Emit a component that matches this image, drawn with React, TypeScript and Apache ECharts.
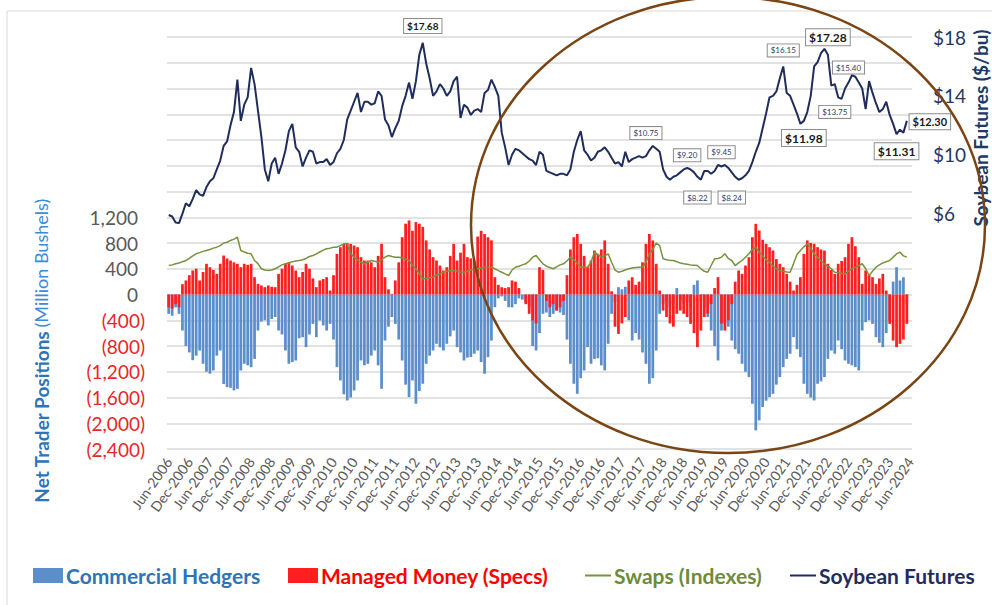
import React, { useEffect, useRef } from "react";
import * as echarts from "echarts";

const MONTH_NAMES = ["Jan", "Feb", "Mar", "Apr", "May", "Jun", "Jul", "Aug", "Sep", "Oct", "Nov", "Dec"];
const START_YEAR = 2006;
const START_MONTH = 5; // June
const N_MONTHS = 217; // Jun-2006 .. Jun-2024
const categories: string[] = [];
for (let k = 0; k < N_MONTHS; k++) {
  const m = (START_MONTH + k) % 12;
  const y = START_YEAR + Math.floor((START_MONTH + k) / 12);
  categories.push(`${MONTH_NAMES[m]}-${y}`);
}

// Commercial hedgers net position (million bushels), monthly
const hedgers: (number | null)[] = [
  -300, -330, -200, -300, -560, -800, -900,
  -1020, -950, -870, -1076, -1200, -1230, -1180, -950, -870, -1390, -1440, -1450,
  -1490, -1465, -1180, -1076, -1100, -1130, -1000, -560, -420, -400, -480, -380,
  -350, -560, -620, -870, -1076, -1050, -1025, -680, -663, -818, -620, -456,
  -663, -404, -480, -560, -456, -700, -1128, -1335, -1550, -1646, -1600, -1490,
  -1335, -1025, -1100, -1076, -950, -870, -1100, -1465, -715, -500, -350, -456,
  -700, -1025, -1400, -1594, -1335, -1697, -1500, -1387, -1076, -950, -870, -766,
  -820, -870, -766, -650, -560, -818, -900, -1025, -980, -973, -920, -870,
  -1050, -1232, -973, -715, -197, -60, -30, -100, -197, -200, -150, -60,
  -80, -120, -200, -800, -870, -600, -300, -280, -350, -300, -250, -280,
  -320, -700, -1076, -1387, -1543, -1300, -1180, -818, -1076, -1000, -990, -1100,
  -1180, -766, -300, -120, 114, 80, 120, -400, -715, -600, -700, -900,
  -1076, -1387, -1300, -870, -300, -150, -100, -200, -150, 100, -100, -150,
  -120, -200, 150, 218, -100, -200, -350, -560, -800, -1025, -560, -456,
  -500, -715, -850, -920, -1076, -1200, -1283, -1697, -2110, -1955, -1749, -1650,
  -1594, -1543, -1400, -1283, -1128, -1000, -920, -663, -850, -973, -1387, -1543,
  -1600, -1646, -1387, -1350, -1283, -1000, -870, -920, -715, -850, -1025, -1076,
  -1100, -1128, -1180, -560, -430, -400, -456, -663, -750, -818, -600, -404,
  200, 424, 218, 269, -150, null,
];

// Managed money net position (million bushels), monthly
const managed: (number | null)[] = [
  -200, -220, -150, -200, 160, 218, 300,
  373, 400, 218, 350, 477, 424, 380, 321, 477, 605, 560, 528,
  500, 477, 424, 477, 460, 477, 269, 166, 140, 114, 140, 120,
  114, 321, 400, 477, 502, 450, 373, 269, 350, 477, 400, 250,
  114, 218, 240, 269, 62, 300, 631, 735, 787, 800, 787, 760,
  735, 580, 528, 528, 500, 424, 600, 787, 269, 80, 10, 218,
  500, 890, 1100, 1150, 990, 1125, 1100, 1050, 840, 700, 580, 528,
  450, 373, 424, 600, 787, 528, 650, 787, 580, 560, 528, 900,
  990, 940, 890, 840, 269, 150, 114, 100, 114, 218, 200, 100,
  0, -150, -300, -404, -450, 424, 380, -100, -200, -150, -250, -200,
  -100, 300, 700, 890, 940, 787, 600, 424, 528, 683, 632, 700,
  840, 477, 50, -500, -612, -450, -350, 218, 269, 150, 200, 500,
  787, 940, 840, 477, 62, -250, -350, -450, -500, -300, -250, -300,
  -350, -456, -600, -818, -560, -350, -300, -150, 100, 269, -450, -560,
  -400, -150, 200, 373, 321, 450, 580, 890, 1098, 993, 850, 787,
  735, 683, 550, 477, 424, 321, 200, 62, 150, 269, 632, 840,
  800, 787, 735, 700, 683, 477, 380, 321, 477, 520, 580, 787,
  890, 750, 580, 166, 373, 300, 269, 166, 250, 321, 62, -456,
  -716, -818, -766, -700, -456, null,
];

// Swap dealers (index) net position (million bushels), monthly
const swaps: (number | null)[] = [
  450, 460, 477, 490, 510, 528, 560,
  600, 632, 650, 670, 683, 700, 720, 735, 760, 800, 812, 840,
  860, 890, 683, 660, 640, 632, 528, 480, 400, 380, 373, 380,
  400, 430, 460, 477, 490, 510, 520, 528, 540, 560, 590, 605,
  630, 660, 690, 710, 720, 735, 735, 760, 787, 787, 632, 580,
  530, 500, 477, 500, 528, 515, 502, 540, 580, 605, 590, 580,
  580, 570, 550, 528, 450, 400, 320, 244, 250, 260, 269, 300,
  320, 346, 360, 370, 373, 360, 350, 346, 360, 383, 390, 400,
  410, 420, 424, 424, 400, 370, 346, 320, 295, 380, 424, 440,
  460, 477, 520, 580, 605, 540, 477, 440, 420, 400, 430, 460,
  477, 520, 580, 540, 480, 424, 424, 424, 500, 657, 620, 580,
  600, 632, 500, 380, 346, 360, 380, 400, 410, 420, 424, 424,
  500, 632, 700, 800, 760, 554, 540, 530, 528, 510, 490, 477,
  470, 460, 455, 450, 400, 360, 346, 450, 554, 560, 580, 632,
  560, 528, 450, 490, 528, 580, 632, 700, 735, 657, 600, 540,
  500, 440, 400, 373, 360, 350, 346, 480, 620, 683, 740, 787,
  720, 632, 580, 520, 477, 440, 400, 346, 340, 330, 321, 360,
  400, 424, 450, 477, 400, 295, 360, 424, 460, 490, 510, 528,
  580, 630, 657, 600, 580, null,
];

// Soybean futures price ($/bu), monthly
const price: (number | null)[] = [
  5.9, 5.8, 5.4, 5.35, 6.0, 6.7, 6.5,
  7.0, 7.6, 7.3, 7.2, 7.8, 8.2, 8.4, 9.0, 9.6, 10.6, 10.9, 12.0,
  12.9, 15.1, 12.3, 13.4, 13.9, 15.9, 14.8, 13.0, 11.2, 9.0, 8.2, 9.4,
  9.8, 8.7, 9.4, 10.3, 11.6, 12.1, 10.5, 10.2, 9.2, 9.8, 10.3, 10.2,
  9.4, 9.5, 9.5, 9.7, 9.3, 9.5, 10.1, 10.4, 11.0, 12.4, 13.0, 13.6,
  14.2, 12.9, 13.6, 13.6, 13.4, 13.5, 14.3, 14.0, 12.4, 12.0, 11.2, 11.8,
  12.3, 13.3, 14.0, 14.9, 13.8, 15.0, 16.8, 17.6, 16.2, 15.2, 14.0, 14.3,
  14.8, 14.5, 14.0, 14.3, 15.0, 15.3, 12.5, 13.4, 13.2, 12.7, 13.0, 13.1,
  12.9, 14.2, 14.4, 15.1, 14.6, 14.0, 11.5, 10.5, 9.3, 10.0, 10.4, 10.3,
  10.1, 9.9, 9.7, 9.6, 9.3, 10.2, 10.0, 8.9, 8.8, 8.7, 8.6, 8.7,
  8.7, 8.6, 9.0, 10.2, 11.0, 11.6, 10.3, 10.0, 9.6, 9.8, 10.2, 10.3,
  10.5, 10.2, 9.8, 9.4, 9.5, 9.2, 10.2, 9.5, 9.7, 9.8, 9.9, 9.8,
  9.9, 10.3, 10.6, 10.4, 10.2, 9.0, 8.5, 8.3, 8.5, 8.6, 8.8, 9.0,
  9.1, 9.0, 8.8, 8.5, 8.3, 8.9, 8.9, 8.7, 8.9, 9.3, 9.2, 9.3,
  9.1, 8.8, 8.5, 8.3, 8.4, 8.6, 8.9, 9.5, 10.2, 10.8, 11.8, 12.8,
  13.9, 14.0, 14.3, 15.2, 16.0, 14.2, 14.0, 13.4, 12.8, 12.1, 12.3, 12.9,
  14.0, 16.0, 16.3, 16.9, 17.2, 16.8, 14.7, 14.8, 13.9, 13.8, 14.5, 14.9,
  15.4, 15.3, 14.9, 14.5, 13.1, 15.0, 14.2, 13.5, 12.9, 13.1, 13.6, 12.7,
  12.1, 11.4, 11.7, 11.5, 12.3, null,
];

// Price call-outs: category index, price level of the box, text (and label nudge)
const noteIdx = [74, 179, 192, 198, 194, 185, 212, 215, 139, 151, 161, 154, 164];
const notePrice = [18, 17.09, 17.98, 15.92, 12.91, 11.13, 10.24, 12.3, 11.47, 9.96, 10.17, 7.09, 7.09];
const noteText = ["$17.68", "$16.15", "$17.28", "$15.40", "$13.75", "$11.98", "$11.31", "$12.30", "$10.75", "$9.20", "$9.45", "$8.22", "$8.24"];
const noteBold = [true, false, true, false, false, true, true, true, false, false, false, false, false];
const noteSize = [10, 8, 12, 8, 8, 12, 12, 11, 8, 8, 8, 8, 8];
const noteNudge = [[0, -11], [0, 0], [0, 0], [0, 0], [0, 0], [0, 0], [0, 0], [23, 1], [0, 0], [0, 0], [0, 0], [0, 0], [0, 0]];

const leftMin = -2400;
const leftMax = 4000;
const leftStep = 400;
const leftLabelTop = 1200;
const rightMin = -10;
const rightMax = 18;
const rightStep = 4;
const rightLabelBottom = 6;

const FONT = "Lato, 'Open Sans', sans-serif";

function fmt(n: number) {
  return Math.abs(n).toLocaleString("en-US");
}

function legendBox(name: string, left: number, color: string, isLine: boolean) {
  return {
    data: [name],
    left,
    top: 565,
    padding: 0,
    icon: "rect",
    itemWidth: isLine ? 26 : 30,
    itemHeight: isLine ? 2 : 15,
    textStyle: { color, fontSize: 21, fontWeight: "bold", fontFamily: FONT, padding: [0, 0, 0, -2] },
  };
}

export default function App() {
  const ref = useRef<HTMLDivElement>(null);
  useEffect(() => {
    if (!ref.current) return;
    const chart = echarts.init(ref.current, undefined, { renderer: "svg" });
    const option: any = {
      animation: false,
      backgroundColor: "#ffffff",
      textStyle: { fontFamily: FONT },
      grid: { left: 167, right: 80, top: 37, bottom: 156, containLabel: false },
      legend: [
        legendBox("Commercial Hedgers", 33, "#2E75B6", false),
        legendBox("Managed Money (Specs)", 288, "#FF0000", false),
        legendBox("Swaps (Indexes)", 585, "#6E8B3D", true),
        legendBox("Soybean Futures", 790, "#1F2D5E", true),
      ],
      xAxis: {
        type: "category",
        data: categories,
        boundaryGap: true,
        axisLine: { show: false, onZero: false },
        axisTick: { show: false },
        splitLine: { show: false },
        axisLabel: { interval: 5, rotate: 55, fontSize: 14, color: "#595959", margin: 10, fontFamily: FONT },
      },
      yAxis: [
        {
          type: "value",
          min: leftMin,
          max: leftMax,
          interval: leftStep,
          position: "left",
          axisLine: { show: false },
          axisTick: { show: false },
          splitLine: { show: true, lineStyle: { color: "#D9D9D9", width: 1.5 } },
          axisLabel: {
            margin: 22,
            formatter: (v: number) => {
              if (v > leftLabelTop) return "";
              if (v < 0) return `{n|(${fmt(v)})}`;
              return `{p|${fmt(v)}}`;
            },
            rich: {
              p: { color: "#595959", fontSize: 19, fontFamily: FONT, padding: [0, 7, 0, 0] },
              n: { color: "#E8262A", fontSize: 19, fontFamily: FONT },
            },
          },
        },
        {
          type: "value",
          min: rightMin,
          max: rightMax,
          interval: rightStep,
          position: "right",
          axisLine: { show: false },
          axisTick: { show: false },
          splitLine: { show: false },
          axisLabel: {
            margin: 21,
            fontSize: 19,
            color: "#1F3864",
            fontFamily: FONT,
            formatter: (v: number) => (v >= rightLabelBottom ? `$${v}` : ""),
          },
        },
      ],
      series: [
        {
          name: "Commercial Hedgers",
          type: "bar",
          data: hedgers,
          yAxisIndex: 0,
          barWidth: "80%",
          barGap: "-100%",
          itemStyle: { color: "#5B8ECB" },
        },
        {
          name: "Managed Money (Specs)",
          type: "bar",
          data: managed,
          yAxisIndex: 0,
          barWidth: "80%",
          barGap: "-100%",
          itemStyle: { color: "#FF1F1F" },
        },
        {
          name: "Swaps (Indexes)",
          type: "line",
          data: swaps,
          yAxisIndex: 0,
          symbol: "none",
          z: 3,
          lineStyle: { color: "#76933C", width: 1.5 },
          itemStyle: { color: "#76933C" },
        },
        {
          name: "Soybean Futures",
          type: "line",
          data: price,
          yAxisIndex: 1,
          symbol: "none",
          clip: false,
          z: 4,
          lineStyle: { color: "#1F2D5E", width: 2 },
          itemStyle: { color: "#1F2D5E" },
          markPoint: {
            symbol: "circle",
            symbolSize: 1,
            silent: true,
            itemStyle: { color: "rgba(0,0,0,0)" },
            data: noteText.map((t, k) => ({
              coord: [noteIdx[k], notePrice[k]],
              value: t,
              label: {
                show: true,
                position: "inside",
                offset: noteNudge[k],
                formatter: t,
                fontSize: noteSize[k],
                fontWeight: noteBold[k] ? "bold" : "normal",
                color: noteBold[k] ? "#1A1A1A" : "#2F3B6B",
                backgroundColor: "#ffffff",
                borderColor: "#8C8C8C",
                borderWidth: 1,
                padding: [2, 3],
                fontFamily: FONT,
              },
            })),
          },
        },
      ],
      graphic: [
        {
          type: "rect",
          silent: true,
          shape: { x: 7, y: 11, width: 1000, height: 700 },
          style: { fill: "rgba(0,0,0,0)", stroke: "#D9D9D9", lineWidth: 1 },
          z: -1,
        },
        {
          type: "text",
          x: 41,
          y: 351,
          rotation: Math.PI / 2,
          style: {
            text: "{a|Net Trader Positions} {b|(Million Bushels)}",
            align: "center",
            verticalAlign: "middle",
            rich: {
              a: { fontSize: 19, fontWeight: "bold", fill: "#2E75B6", fontFamily: FONT },
              b: { fontSize: 18, fontWeight: "normal", fill: "#3B8BD9", fontFamily: FONT },
            },
          },
        },
        {
          type: "text",
          x: 980,
          y: 128,
          rotation: Math.PI / 2,
          style: {
            text: "Soybean Futures ($/bu)",
            align: "center",
            verticalAlign: "middle",
            fontSize: 19,
            fontWeight: "bold",
            fill: "#203864",
            fontFamily: FONT,
          },
        },
        {
          type: "ellipse",
          silent: true,
          z: 100,
          shape: { cx: 728, cy: 225, rx: 257, ry: 228 },
          style: { fill: "rgba(0,0,0,0)", stroke: "#7B4513", lineWidth: 2.5 },
        },
      ],
    };
    chart.setOption(option);
    return () => chart.dispose();
  }, []);
  return (
    <div
      ref={ref}
      style={{ position: "absolute", left: 0, top: 0, width: 992, height: 605 }}
    />
  );
}
